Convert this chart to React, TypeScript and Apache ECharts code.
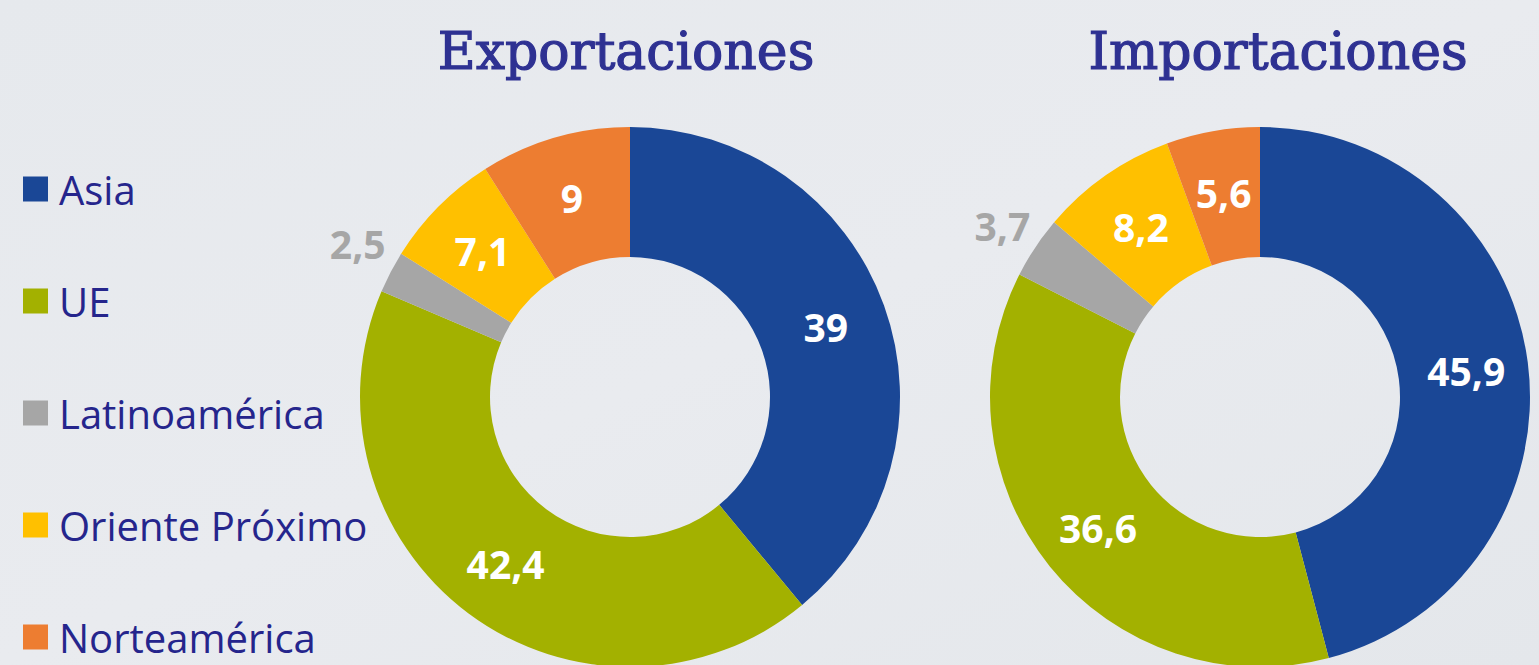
import React, { useEffect, useRef } from "react";
import * as echarts from "echarts";

const categories = ["Asia", "UE", "Latinoamérica", "Oriente Próximo", "Norteamérica"];
const exportValues = [39, 42.4, 2.5, 7.1, 9];
const importValues = [45.9, 36.6, 3.7, 8.2, 5.6];
const titles = ["Exportaciones", "Importaciones"];
const colors = ["#1A4796", "#A3B100", "#A6A6A6", "#FFC000", "#ED7D31"];

const fmt = (v: number) => String(v).replace(".", ",");

function buildData(values: number[], outsideLift: number) {
  return values.map((v, i) => {
    const item: any = { name: categories[i], value: v };
    if (categories[i] === "Latinoamérica") {
      item.label = {
        position: "outside",
        color: "#A6A6A6",
        lineHeight: outsideLift * 2,
        formatter: (p: any) => fmt(p.value) + "\n ",
      };
      item.labelLine = { show: false, length: 0, length2: 0 };
    }
    return item;
  });
}

export default function App() {
  const ref = useRef<HTMLDivElement>(null);
  useEffect(() => {
    document.body.style.margin = "0";
    const chart = echarts.init(ref.current!, null, { renderer: "svg" });
    const pieBase = {
      type: "pie",
      radius: [140, 270],
      startAngle: 90,
      clockwise: true,
      avoidLabelOverlap: false,
      label: {
        show: true,
        position: "inside",
        formatter: (p: any) => fmt(p.value),
        color: "#FFFFFF",
        fontFamily: "Open Sans",
        fontWeight: "bold",
        fontSize: 39,
      },
      labelLine: { show: false, length: 0, length2: 0 },
      emphasis: { disabled: true },
    };
    const titleStyle = {
      fontFamily: "DejaVu Serif",
      fontWeight: "normal",
      fontSize: 52,
      color: "#2E3192",
      textBorderColor: "#2E3192",
      textBorderWidth: 1.2,
    };
    chart.setOption({
      animation: false,
      color: colors,
      backgroundColor: {
        type: "linear",
        x: 0,
        y: 0,
        x2: 1,
        y2: 1,
        colorStops: [
          { offset: 0, color: "#E6E9ED" },
          { offset: 0.5, color: "#E9EBEF" },
          { offset: 1, color: "#E4E7EB" },
        ],
      },
      title: [
        { text: titles[0], left: 621, top: 20, textAlign: "center", textStyle: titleStyle },
        { text: titles[1], left: 1273, top: 20, textAlign: "center", textStyle: titleStyle },
      ],
      legend: {
        orient: "vertical",
        left: 23,
        top: 168,
        padding: 0,
        height: 520,
        itemWidth: 25,
        itemHeight: 25,
        itemGap: 70,
        icon: "rect",
        data: categories,
        selectedMode: false,
        textStyle: {
          fontFamily: "Open Sans",
          fontSize: 40,
          lineHeight: 42,
          color: "#25258C",
          padding: [0, 0, 0, 6],
        },
      },
      series: [
        { ...pieBase, name: titles[0], center: [630, 397], data: buildData(exportValues, 29) },
        { ...pieBase, name: titles[1], center: [1260, 397], data: buildData(importValues, 22) },
      ],
    });
    return () => chart.dispose();
  }, []);
  return <div ref={ref} style={{ width: 1539, height: 665 }} />;
}
